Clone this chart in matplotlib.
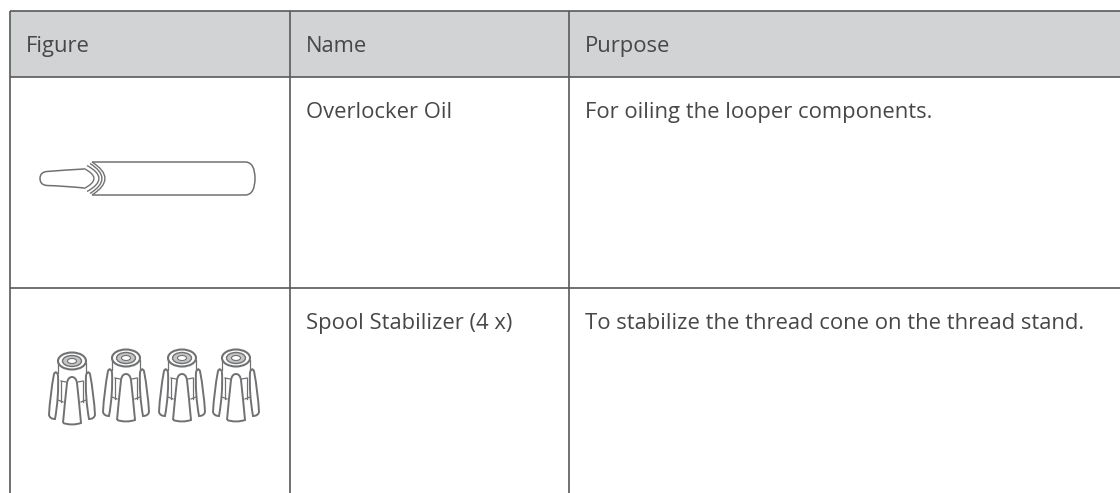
import matplotlib.pyplot as plt
from matplotlib.patches import Rectangle, Ellipse, PathPatch
from matplotlib.path import Path
import numpy as np

plt.rcParams['font.family'] = ['Open Sans', 'DejaVu Sans']

W = 1120
H = 493

headers = ['Figure', 'Name', 'Purpose']
names = ['Overlocker Oil', 'Spool Stabilizer (4 x)']
purposes = ['For oiling the looper components.',
            'To stabilize the thread cone on the thread stand.']

col_x = [10, 290, 569]
row_y = [11, 77, 288, 493]
text_x = [26, 306, 585]

line_col = '#58595b'
text_col = '#474749'
head_col = '#d1d3d4'
draw_col = '#707173'

fig = plt.figure(figsize=(W/100., H/100.), dpi=100)
ax = fig.add_axes([0, 0, 1, 1])
ax.set_xlim(0, W)
ax.set_ylim(H, 0)
ax.axis('off')


def curve(pts, lw=1.1, fc='none'):
    # quadratic bezier through control points, odd points are controls
    codes = [Path.MOVETO] + [Path.CURVE3] * (len(pts) - 1)
    ax.add_patch(PathPatch(Path(pts, codes), fc=fc, ec=draw_col, lw=lw))


# header and grid, no border on the right side
ax.add_patch(Rectangle((col_x[0], row_y[0]), W-col_x[0], row_y[1]-row_y[0],
                       fc=head_col, ec='none'))
for x in col_x:
    ax.plot([x, x], [row_y[0], row_y[3]], color=line_col, lw=1.2, solid_capstyle='butt')
for y in row_y[:3]:
    ax.plot([col_x[0], W], [y, y], color=line_col, lw=1.2, solid_capstyle='butt')

# text
for i in range(3):
    ax.text(text_x[i], 52, headers[i], fontsize=15.85, color=text_col, va='baseline')
for i in range(2):
    ax.text(text_x[1], row_y[i+1]+41, names[i], fontsize=15.85, color=text_col, va='baseline')
    ax.text(text_x[2], row_y[i+1]+41, purposes[i], fontsize=15.85, color=text_col, va='baseline')

# oil tube
curve([(92, 162), (170, 162), (246, 162), (255, 163), (255, 178.5),
       (255, 194), (246, 195), (170, 195), (92, 195)])
curve([(84, 169), (65, 170), (47, 171.5), (40, 172), (40, 178.5),
       (40, 185), (47, 185.5), (65, 186), (84, 188)])
for start, peak, h in [(92, 105, 16.5), (90, 102, 15), (87, 99, 13), (84, 94, 10)]:
    curve([(start, 178.5-h), (2*peak-start, 178.5), (start, 178.5+h)], lw=1.0)

# spool stabilizers
spool_x = [72, 126, 182, 236]
spool_y = [361, 358, 358, 358]
for i in range(4):
    cx = spool_x[i]
    cy = spool_y[i]
    # neck
    ax.plot([cx-14, cx-14], [cy+2, cy+12], color=draw_col, lw=0.9)
    ax.plot([cx+14, cx+14], [cy+2, cy+12], color=draw_col, lw=0.9)
    ax.add_patch(Ellipse((cx, cy), 28, 17, fc='white', ec=draw_col, lw=1.5))
    ax.add_patch(Ellipse((cx, cy), 19, 11, fc='#c4c4c4', ec=draw_col, lw=1.0))
    ax.add_patch(Ellipse((cx, cy), 9, 5, fc='white', ec=draw_col, lw=0.8))
    # side prongs
    for s in [-1, 1]:
        curve([(cx+s*14, cy+14), (cx+s*16, cy+9), (cx+s*18, cy+13),
               (cx+s*22, cy+34), (cx+s*23, cy+54), (cx+s*22, cy+58), (cx+s*17, cy+58),
               (cx+s*13, cy+36), (cx+s*14, cy+14)], lw=1.4)
        # webs between the prongs
        ax.plot([cx+s*6, cx+s*11], [cy+21, cy+20], color=draw_col, lw=0.9)
        ax.plot([cx+s*9, cx+s*14], [cy+41, cy+39], color=draw_col, lw=0.9)
        ax.plot([cx+s*11, cx+s*11], [cy+20, cy+41], color=draw_col, lw=0.9)
    # centre prong
    curve([(cx-9, cy+62), (cx-7, cy+40), (cx-5, cy+22), (cx-4, cy+16), (cx, cy+16),
           (cx+4, cy+16), (cx+5, cy+22), (cx+7, cy+40), (cx+9, cy+62),
           (cx, cy+65), (cx-9, cy+62)], lw=1.4, fc='white')

fig.savefig('out.png', dpi=100)
